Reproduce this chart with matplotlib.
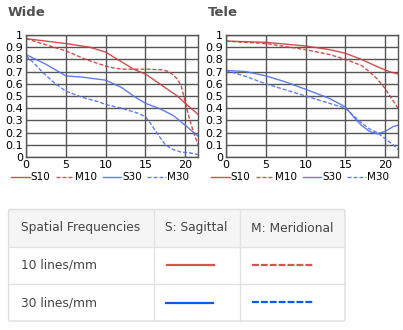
import matplotlib

matplotlib.use("Agg")
import matplotlib.pyplot as plt
from matplotlib.patches import FancyBboxPatch, Rectangle
from matplotlib.lines import Line2D

# image height (mm from centre) and contrast readings
wide_s10_x = [0, 2.5, 5, 8, 10, 12, 13.5, 15, 17, 19, 20, 21.6]
wide_s10_y = [0.97, 0.95, 0.93, 0.90, 0.86, 0.78, 0.72, 0.68, 0.59, 0.50, 0.44, 0.35]
wide_m10_x = [0, 2.5, 5, 7.5, 10, 11, 12, 15, 17, 18, 19, 19.5, 20, 20.5, 21, 21.6]
wide_m10_y = [0.97, 0.92, 0.87, 0.80, 0.745, 0.73, 0.72, 0.72, 0.715, 0.70, 0.64, 0.58, 0.45, 0.32, 0.21, 0.10]
wide_s30_x = [0, 2.5, 5, 7, 10, 12, 13.5, 15, 17, 18.5, 20, 21.6]
wide_s30_y = [0.84, 0.76, 0.665, 0.655, 0.63, 0.57, 0.50, 0.44, 0.39, 0.34, 0.26, 0.17]
wide_m30_x = [0, 1, 2, 3.5, 5, 7, 9, 10, 12, 14, 15, 15.7, 16.5, 17.5, 18.5, 19.5, 20.5, 21.6]
wide_m30_y = [0.83, 0.77, 0.70, 0.61, 0.54, 0.49, 0.455, 0.43, 0.40, 0.36, 0.33, 0.27, 0.19, 0.10, 0.06, 0.04, 0.035, 0.02]

tele_s10_x = [0, 5, 10, 13, 15, 17, 19, 20.5, 21.6]
tele_s10_y = [0.95, 0.94, 0.91, 0.88, 0.85, 0.80, 0.74, 0.70, 0.68]
tele_m10_x = [0, 5, 10, 13, 15, 17, 18, 19, 20, 21, 21.6]
tele_m10_y = [0.95, 0.93, 0.88, 0.84, 0.80, 0.75, 0.70, 0.64, 0.56, 0.46, 0.40]
tele_s30_x = [0, 2.5, 5, 7.5, 10, 13, 15, 16, 17, 18, 19, 20, 21, 21.6]
tele_s30_y = [0.71, 0.70, 0.665, 0.615, 0.555, 0.48, 0.41, 0.33, 0.26, 0.21, 0.19, 0.21, 0.25, 0.26]
tele_m30_x = [0, 2.5, 5, 7.5, 10, 12.5, 15, 16, 17, 18, 19, 20, 21, 21.6]
tele_m30_y = [0.71, 0.66, 0.60, 0.55, 0.50, 0.45, 0.40, 0.34, 0.28, 0.23, 0.20, 0.15, 0.10, 0.06]

series_names = ["S10", "M10", "S30", "M30"]
panel_titles = ["Wide", "Tele"]
x_ticks = [0, 5, 10, 15, 20]
y_ticks = [0, 0.1, 0.2, 0.3, 0.4, 0.5, 0.6, 0.7, 0.8, 0.9, 1]
y_tick_labels = ["0", "0.1", "0.2", "0.3", "0.4", "0.5", "0.6", "0.7", "0.8", "0.9", "1"]

table_header = ["Spatial Frequencies", "S: Sagittal", "M: Meridional"]
table_rows = ["10 lines/mm", "30 lines/mm"]

RED = "#d23a3a"
BLUE = "#4f6ff0"
RED_T = "#d9534f"
BLUE_T = "#0a5ce8"
GRID = "#555555"
TEXT = "#444444"
W, H = 403, 330

plt.rcParams["font.family"] = ["DejaVu Sans"]

fig = plt.figure(figsize=(W / 100, H / 100), dpi=100)
fig.patch.set_facecolor("white")

panels = [
    (panel_titles[0], 26, [(wide_s10_x, wide_s10_y), (wide_m10_x, wide_m10_y),
                           (wide_s30_x, wide_s30_y), (wide_m30_x, wide_m30_y)]),
    (panel_titles[1], 226, [(tele_s10_x, tele_s10_y), (tele_m10_x, tele_m10_y),
                            (tele_s30_x, tele_s30_y), (tele_m30_x, tele_m30_y)]),
]
dash = (0, (2.9, 1.4))
styles = [(RED, "-"), (RED, dash), (BLUE, "-"), (BLUE, dash)]

for title, left, data in panels:
    ax = fig.add_axes([left / W, (H - 157) / H, 172 / W, 122 / H])
    for (xs, ys), (c, ls), name in zip(data, styles, series_names):
        ax.plot(xs, ys, color=c, linestyle=ls, linewidth=1.0, alpha=0.9, label=name)
    ax.set_xlim(0, 21.6)
    ax.set_ylim(0, 1)
    ax.set_xticks(x_ticks)
    ax.set_yticks(y_ticks)
    ax.set_yticklabels(y_tick_labels)
    ax.grid(True, color=GRID, linewidth=1.0)
    ax.set_axisbelow(True)
    for sp in ax.spines.values():
        sp.set_color(GRID)
        sp.set_linewidth(1.0)
    ax.tick_params(length=0, labelsize=8, colors="black", pad=2)
    fig.text((left - 18) / W, 1 - 13 / H, title, fontsize=9.5, fontweight="bold",
             color="#505050", va="center", ha="left")
    ax.legend(loc="upper center", bbox_to_anchor=(0.43, -0.125), ncol=4, frameon=False,
              fontsize=7.5, handlelength=1.8, handletextpad=0.1, columnspacing=0.5,
              borderaxespad=0, borderpad=0)

# table drawn in pixel coordinates
tax = fig.add_axes([0, 0, 1, 1])
tax.set_xlim(0, W)
tax.set_ylim(H, 0)
tax.axis("off")

x0, x1, x2, x3 = 8.5, 154, 240, 345
y0, y1, y2, y3 = 209.5, 246.5, 284, 321
tax.add_patch(Rectangle((x0, y0), x3 - x0, y1 - y0, facecolor="#f5f5f5", edgecolor="none"))
tax.add_patch(FancyBboxPatch((x0, y0), x3 - x0, y3 - y0, boxstyle="round,pad=0,rounding_size=2",
                             facecolor="none", edgecolor="#dddddd", linewidth=1))
for y in (y1, y2):
    tax.plot([x0, x3], [y, y], color="#e2e2e2", linewidth=1)
for x in (x1, x2):
    tax.plot([x, x], [y0, y3], color="#e2e2e2", linewidth=1)

col_text_x = [21, 165, 251]
for tx, label in zip(col_text_x, table_header):
    tax.text(tx, (y0 + y1) / 2, label, fontsize=8.8, color=TEXT, va="center", ha="left")
for ty, label in zip([(y1 + y2) / 2, (y2 + y3) / 2], table_rows):
    tax.text(21, ty, label, fontsize=8.8, color=TEXT, va="center", ha="left")

tdash = (0, (3.1, 0.9))
tax.add_line(Line2D([167, 214], [264.5, 264.5], color=RED_T, linewidth=1.6))
tax.add_line(Line2D([252, 314], [264.5, 264.5], color=RED_T, linewidth=1.6, linestyle=tdash))
tax.add_line(Line2D([166, 213], [302.5, 302.5], color=BLUE_T, linewidth=1.6))
tax.add_line(Line2D([252, 314], [302, 302], color=BLUE_T, linewidth=1.6, linestyle=tdash))

fig.savefig("out.png", dpi=100)
